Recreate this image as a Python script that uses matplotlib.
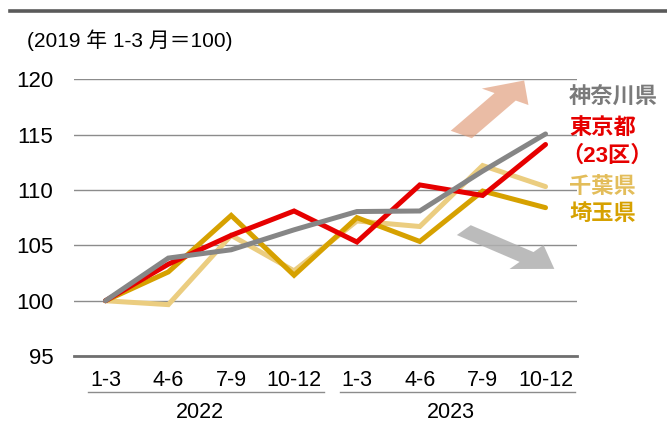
import matplotlib
matplotlib.use("Agg")
import matplotlib.pyplot as plt
import matplotlib.transforms as mtransforms
from matplotlib.patches import FancyArrow

plt.rcParams['font.family'] = ['Liberation Sans', 'Noto Sans CJK JP', 'DejaVu Sans']

quarters = ["1-3", "4-6", "7-9", "10-12", "1-3", "4-6", "7-9", "10-12"]
years = ["2022", "2023"]
kanagawa = [100, 103.85, 104.6, 106.4, 108.05, 108.1, 111.7, 115.05]
tokyo = [100, 103.3, 105.9, 108.1, 105.3, 110.45, 109.5, 114.1]
chiba = [100, 99.65, 105.9, 102.7, 107.2, 106.7, 112.2, 110.3]
saitama = [100, 102.6, 107.7, 102.3, 107.5, 105.35, 109.9, 108.4]
yticks = [95, 100, 105, 110, 115, 120]

c_gray = "#868686"
c_red = "#e60000"
c_light = "#ebcd80"
c_gold = "#d6a100"

fig = plt.figure(figsize=(6.67, 4.23), dpi=100)
ax = fig.add_axes([0.111, 0.158, 0.754, 0.655])

x = list(range(len(quarters)))
lw = 3.6
ax.plot(x, chiba, color=c_light, lw=lw, solid_capstyle='round', solid_joinstyle='miter', zorder=3)
ax.plot(x, saitama, color=c_gold, lw=lw, solid_capstyle='round', solid_joinstyle='miter', zorder=4)
ax.plot(x, tokyo, color=c_red, lw=lw, solid_capstyle='round', solid_joinstyle='miter', zorder=5)
ax.plot(x, kanagawa, color=c_gray, lw=lw, solid_capstyle='round', solid_joinstyle='miter', zorder=6)

ax.set_xlim(-0.5, len(quarters) - 0.5)
ax.set_ylim(95, 120)
ax.set_yticks(yticks)
ax.set_yticklabels([str(v) for v in yticks], fontsize=16)
ax.set_xticks(x)
ax.set_xticklabels(quarters, fontsize=15.5)
ax.tick_params(axis='y', length=0, pad=15)
ax.tick_params(axis='x', length=0, pad=10)
ax.grid(axis='y', color="#8c8c8c", lw=1)
ax.set_axisbelow(True)
for s in ["top", "right", "left"]:
    ax.spines[s].set_visible(False)
ax.spines["bottom"].set_color("#6f6f6f")
ax.spines["bottom"].set_linewidth(2)

# year labels and underline under quarter labels
trans = mtransforms.blended_transform_factory(ax.transData, ax.transAxes)
for i, yr in enumerate(years):
    start = i * 4
    ax.text(start + 1.5, -0.202, yr, transform=trans, ha='center', va='center', fontsize=15.5)
    ax.plot([start - 0.27, start + 3.47], [-0.128, -0.128], transform=trans,
            color="#8c8c8c", lw=1, clip_on=False)

# title line and unit text
fig.add_artist(plt.Line2D([0.015, 1.0], [0.975, 0.975], color="#5a5a5a", lw=2.6))
fig.text(0.04, 0.905, "(2019 年 1-3 月＝100)", fontsize=15, ha='left', va='center')

# arrows (axes fraction coords)
ax.add_patch(FancyArrow(0.77, 0.80, 0.125, 0.195, width=0.05, head_width=0.11, head_length=0.07,
                        length_includes_head=True, color="#e2a07f", alpha=0.7, lw=0,
                        transform=ax.transAxes, clip_on=False, zorder=2))
ax.add_patch(FancyArrow(0.775, 0.455, 0.18, -0.14, width=0.045, head_width=0.11, head_length=0.07,
                        length_includes_head=True, color="#b0b0b0", alpha=0.85, lw=0,
                        transform=ax.transAxes, clip_on=False, zorder=2))

# series labels
lab_x = 569 / 667
fs = 16
fig.text(lab_x, 1 - 98 / 423, "神奈川県", color="#7a7a7a", fontsize=fs, fontweight='bold', va='center', ha='left')
fig.text(lab_x, 1 - 128 / 423, "東京都", color=c_red, fontsize=fs, fontweight='bold', va='center', ha='left')
fig.text(lab_x - 0.012, 1 - 156 / 423, "（23区）", color=c_red, fontsize=fs, fontweight='bold', va='center', ha='left')
fig.text(lab_x, 1 - 187 / 423, "千葉県", color="#e3bd5a", fontsize=fs, fontweight='bold', va='center', ha='left')
fig.text(lab_x, 1 - 215 / 423, "埼玉県", color=c_gold, fontsize=fs, fontweight='bold', va='center', ha='left')

fig.savefig("out.png", dpi=100)
